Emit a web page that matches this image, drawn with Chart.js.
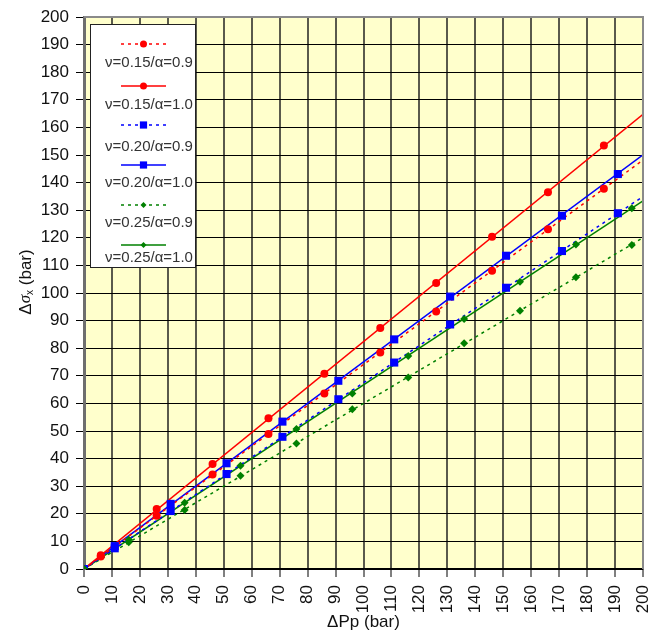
<!DOCTYPE html>
<html>
<head>
<meta charset="utf-8">
<title>Δσx vs ΔPp</title>
<script src="https://cdn.jsdelivr.net/npm/chart.js@4.4.1/dist/chart.umd.min.js"></script>
<style>
  body { margin: 0; background: #fff; }
  #wrap { width: 661px; height: 635px; }
</style>
</head>
<body>
<div id="wrap"><canvas id="stressChart" width="661" height="635"></canvas></div>
<script>
// pore pressure change (bar) where each Poisson ratio was sampled
const ppNu015 = [0, 6, 26, 46, 66, 86, 106, 126, 146, 166, 186];
const ppNu020 = [0, 11, 31, 51, 71, 91, 111, 131, 151, 171, 191];
const ppNu025 = [0, 16, 36, 56, 76, 96, 116, 136, 156, 176, 196];

// horizontal stress change (bar)
const dsNu015a09 = [0, 4.5, 19.3, 34.2, 48.9, 63.6, 78.4, 93.3, 108.1, 123.1, 137.8];
const dsNu015a10 = [0, 5.0, 21.7, 38.0, 54.6, 70.7, 87.3, 103.6, 120.4, 136.5, 153.4];
const dsNu020a09 = [0, 7.5, 21.0, 34.4, 47.9, 61.5, 74.8, 88.6, 101.9, 115.2, 128.9];
const dsNu020a10 = [0, 8.3, 23.6, 38.3, 53.4, 68.2, 83.2, 98.7, 113.5, 128.0, 143.1];
const dsNu025a09 = [0, 9.7, 21.4, 33.8, 45.5, 57.9, 69.4, 81.8, 93.6, 105.7, 117.4];
const dsNu025a10 = [0, 10.6, 24.0, 37.4, 50.7, 63.6, 77.2, 90.6, 104.1, 117.6, 130.7];

const axisMax = 200;
const axisStep = 10;

const RED = '#ff0000';
const BLUE = '#0000ff';
const GREEN = '#008000';
const DOTTED = [3, 4];
const FONT = 'Liberation Sans, Arial, sans-serif';

const series = [
  { label: 'ν=0.15/α=0.9', xs: ppNu015, ys: dsNu015a09, color: RED, dash: DOTTED, marker: 'circle', radius: 4, rank: 2 },
  { label: 'ν=0.15/α=1.0', xs: ppNu015, ys: dsNu015a10, color: RED, dash: [], marker: 'circle', radius: 4, rank: 2 },
  { label: 'ν=0.20/α=0.9', xs: ppNu020, ys: dsNu020a09, color: BLUE, dash: DOTTED, marker: 'rect', radius: 5.7, rank: 1 },
  { label: 'ν=0.20/α=1.0', xs: ppNu020, ys: dsNu020a10, color: BLUE, dash: [], marker: 'rect', radius: 5.7, rank: 1 },
  { label: 'ν=0.25/α=0.9', xs: ppNu025, ys: dsNu025a09, color: GREEN, dash: DOTTED, marker: 'rectRot', radius: 4, rank: 0 },
  { label: 'ν=0.25/α=1.0', xs: ppNu025, ys: dsNu025a10, color: GREEN, dash: [], marker: 'rectRot', radius: 4, rank: 0 }
];

// linear trend forced through the origin
function originSlope(xs, ys) {
  let sxy = 0, sxx = 0;
  xs.forEach((x, i) => { sxy += x * ys[i]; sxx += x * x; });
  return sxy / sxx;
}

const datasets = [];
series.forEach(s => {
  datasets.push({
    label: s.label,
    data: s.xs.map((x, i) => ({ x: x, y: s.ys[i] })),
    showLine: false,
    pointStyle: s.marker,
    pointRadius: s.radius,
    pointBackgroundColor: s.color,
    pointBorderColor: s.color,
    pointBorderWidth: 0,
    order: s.rank
  });
  const k = originSlope(s.xs, s.ys);
  datasets.push({
    label: s.label + ' trend',
    data: [{ x: 0, y: 0 }, { x: axisMax, y: k * axisMax }],
    showLine: true,
    borderColor: s.color,
    borderWidth: 1.5,
    borderDash: s.dash,
    pointRadius: 0,
    fill: false,
    order: 5
  });
});

const plotBackground = {
  id: 'plotBackground',
  beforeDraw(chart) {
    const { ctx, chartArea: a } = chart;
    ctx.save();
    ctx.fillStyle = '#ffffcc';
    ctx.fillRect(a.left, a.top, a.right - a.left, a.bottom - a.top);
    ctx.restore();
  }
};

const plotFrame = {
  id: 'plotFrame',
  afterDatasetsDraw(chart) {
    const { ctx, chartArea: a } = chart;
    ctx.save();
    ctx.strokeStyle = '#8a8a8a';
    ctx.lineWidth = 2;
    ctx.beginPath();
    ctx.moveTo(a.left, a.top);
    ctx.lineTo(a.right, a.top);
    ctx.lineTo(a.right, a.bottom);
    ctx.stroke();
    ctx.restore();
  }
};

// y title with italic sigma and subscript x
const yTitle = {
  id: 'yTitle',
  afterDraw(chart) {
    const ctx = chart.ctx;
    const parts = [
      { t: 'Δ', f: '17px ' + FONT, dy: 0 },
      { t: 'σ', f: 'italic 17px Liberation Serif, serif', dy: 0 },
      { t: 'x', f: '10px ' + FONT, dy: 4 },
      { t: ' (bar)', f: '17px ' + FONT, dy: 0 }
    ];
    ctx.save();
    let total = 0;
    parts.forEach(p => { ctx.font = p.f; p.w = ctx.measureText(p.t).width; total += p.w; });
    ctx.translate(26, 282);
    ctx.rotate(-Math.PI / 2);
    ctx.fillStyle = '#111';
    ctx.textBaseline = 'middle';
    let x = -total / 2;
    parts.forEach(p => {
      ctx.font = p.f;
      ctx.fillText(p.t, x, p.dy);
      x += p.w;
    });
    ctx.restore();
  }
};

function drawMarker(ctx, style, x, y, r) {
  ctx.beginPath();
  if (style === 'circle') {
    ctx.arc(x, y, r, 0, Math.PI * 2);
  } else if (style === 'rect') {
    ctx.rect(x - r, y - r, 2 * r, 2 * r);
  } else {
    ctx.moveTo(x, y - r);
    ctx.lineTo(x + r, y);
    ctx.lineTo(x, y + r);
    ctx.lineTo(x - r, y);
    ctx.closePath();
  }
  ctx.fill();
}

const boxLegend = {
  id: 'boxLegend',
  afterDraw(chart) {
    const { ctx, chartArea: a } = chart;
    const left = a.left + 6, top = a.top + 7;
    const sampleY = [20, 62, 101, 141, 181, 221];
    const textY = [39, 81, 123, 159, 199, 234];
    const legendMarker = { circle: 3.5, rect: 3.6, rectRot: 3 };
    ctx.save();
    ctx.fillStyle = '#fff';
    ctx.fillRect(left, top, 105, 243);
    ctx.strokeStyle = '#222';
    ctx.lineWidth = 1;
    ctx.strokeRect(left + 0.5, top + 0.5, 105, 243);
    series.forEach((s, i) => {
      const y = top + sampleY[i];
      ctx.strokeStyle = s.color;
      ctx.lineWidth = 1.5;
      ctx.setLineDash(s.dash);
      ctx.beginPath();
      ctx.moveTo(left + 31, y);
      ctx.lineTo(left + 76, y);
      ctx.stroke();
      ctx.setLineDash([]);
      ctx.fillStyle = s.color;
      drawMarker(ctx, s.marker, left + 53.5, y, legendMarker[s.marker]);
      ctx.fillStyle = '#333';
      ctx.font = '15px ' + FONT;
      ctx.textAlign = 'center';
      ctx.textBaseline = 'middle';
      ctx.fillText(s.label, left + 59, top + textY[i]);
    });
    ctx.restore();
  }
};

const tickFont = { family: FONT, size: 17 };

new Chart(document.getElementById('stressChart'), {
  type: 'scatter',
  data: { datasets: datasets },
  options: {
    responsive: false,
    animation: false,
    layout: { padding: { top: 17, right: 18, left: 0, bottom: 0 } },
    plugins: {
      legend: { display: false },
      tooltip: { enabled: false }
    },
    scales: {
      x: {
        type: 'linear',
        min: 0,
        max: axisMax,
        ticks: {
          stepSize: axisStep,
          autoSkip: false,
          minRotation: 90,
          maxRotation: 90,
          padding: 8,
          color: '#111',
          font: tickFont
        },
        grid: { color: '#5a5a4c', lineWidth: 2, tickLength: 8, tickColor: '#000', tickWidth: 1 },
        border: { color: '#000', width: 1.5 },
        title: {
          display: true,
          text: 'ΔPp (bar)',
          color: '#111',
          font: { family: FONT, size: 17 },
          padding: { top: 0, bottom: 2 }
        },
        afterFit(scale) {
          scale.height = 66;
          scale.paddingLeft = 0;
          scale.paddingRight = 0;
        }
      },
      y: {
        type: 'linear',
        min: 0,
        max: axisMax,
        ticks: {
          stepSize: axisStep,
          autoSkip: false,
          padding: 7,
          color: '#111',
          font: tickFont
        },
        grid: { color: '#000', lineWidth: 1, tickLength: 8, tickColor: '#000' },
        border: { color: '#6e6e6e', width: 3 },
        afterFit(scale) {
          scale.width = 84;
          scale.paddingTop = 0;
          scale.paddingBottom = 0;
        }
      }
    }
  },
  plugins: [plotBackground, plotFrame, yTitle, boxLegend]
});
</script>
</body>
</html>
